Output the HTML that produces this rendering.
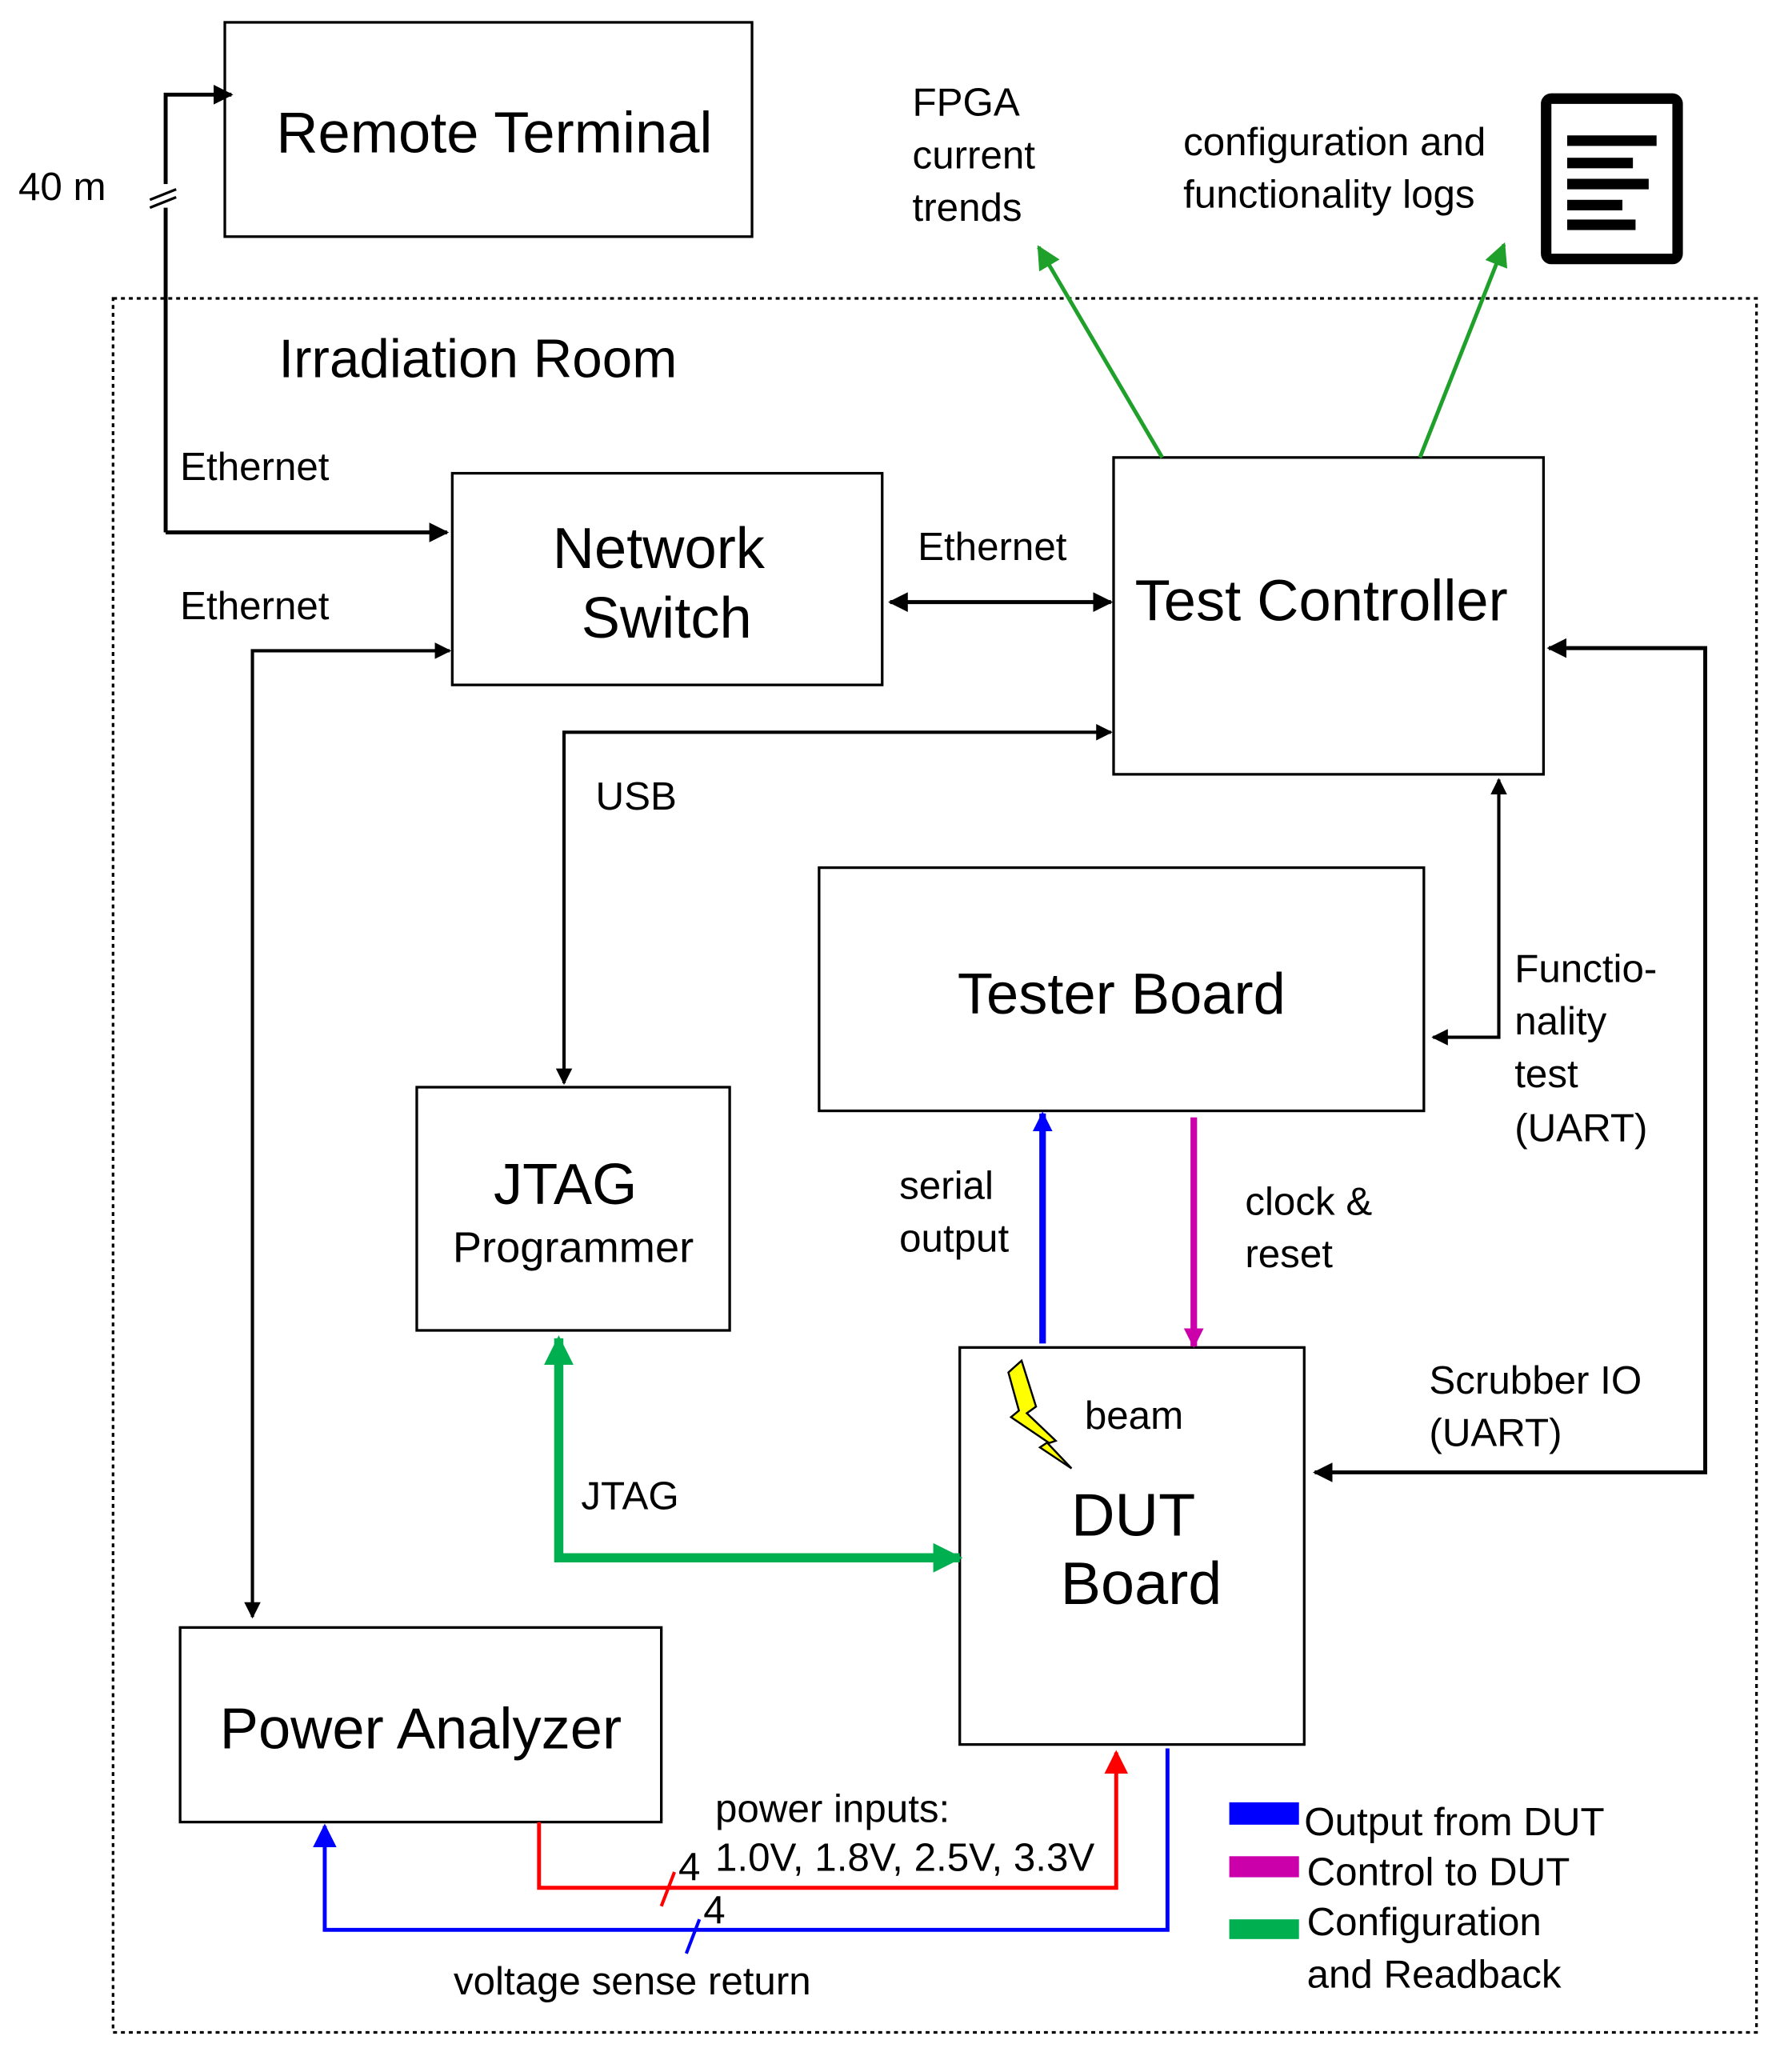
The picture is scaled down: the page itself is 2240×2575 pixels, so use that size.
<!DOCTYPE html>
<html><head><meta charset="utf-8"><style>html,body{margin:0;padding:0;background:#fff}svg{display:block}</style></head><body>
<svg width="2240" height="2575" viewBox="0 0 1363 1567" preserveAspectRatio="none" xmlns="http://www.w3.org/2000/svg" font-family="Liberation Sans, sans-serif">
<defs>
<marker id="ak" viewBox="0 0 10 10" refX="9" refY="5" markerWidth="5" markerHeight="5" orient="auto-start-reverse"><path d="M0,0L10,5L0,10z" fill="#000"/></marker>
<marker id="ag" viewBox="0 0 10 10" refX="9" refY="5" markerWidth="6" markerHeight="6" orient="auto"><path d="M0,0L10,5L0,10z" fill="#1fa02a"/></marker>
<marker id="ab" viewBox="0 0 10 10" refX="9" refY="5" markerWidth="3" markerHeight="3" orient="auto"><path d="M0,0L10,5L0,10z" fill="#0000ff"/></marker>
<marker id="am" viewBox="0 0 10 10" refX="9" refY="5" markerWidth="3" markerHeight="3" orient="auto"><path d="M0,0L10,5L0,10z" fill="#cc00aa"/></marker>
<marker id="agg" viewBox="0 0 10 10" refX="9" refY="5" markerWidth="3.2" markerHeight="3.2" orient="auto-start-reverse"><path d="M0,0L10,5L0,10z" fill="#00b050"/></marker>
<marker id="ar" viewBox="0 0 10 10" refX="9" refY="5" markerWidth="6" markerHeight="6" orient="auto"><path d="M0,0L10,5L0,10z" fill="#ff0000"/></marker>
<marker id="ab2" viewBox="0 0 10 10" refX="9" refY="5" markerWidth="6" markerHeight="6" orient="auto"><path d="M0,0L10,5L0,10z" fill="#0000ff"/></marker>
</defs>
<g fill="none" stroke="#000" stroke-width="2">
<rect x="171" y="17" width="401" height="163"/>
<rect x="86" y="227" width="1250" height="1319" stroke-dasharray="3,3"/>
<rect x="344" y="360" width="327" height="161"/>
<rect x="847" y="348" width="327" height="241"/>
<rect x="623" y="660" width="460" height="185"/>
<rect x="317" y="827" width="238" height="185"/>
<rect x="730" y="1025" width="262" height="302"/>
<rect x="137" y="1238" width="366" height="148"/>
<path d="M126,405V72H176" stroke-width="3" marker-end="url(#ak)"/>
<path d="M126,405H340" stroke-width="3" marker-end="url(#ak)"/>
<path d="M342,495H192V1230" stroke-width="2.5" marker-start="url(#ak)" marker-end="url(#ak)"/>
<path d="M677,458H845" stroke-width="3" marker-start="url(#ak)" marker-end="url(#ak)"/>
<path d="M845,557H429V824" stroke-width="2.5" marker-start="url(#ak)" marker-end="url(#ak)"/>
<path d="M1090,789H1140V593" stroke-width="2.5" marker-start="url(#ak)" marker-end="url(#ak)"/>
<path d="M1178,493H1297V1120H1000" stroke-width="3" marker-start="url(#ak)" marker-end="url(#ak)"/>
</g>
<rect x="112" y="140" width="30" height="18" fill="#fff"/>
<path d="M114,152l20,-8M114,158l20,-8" stroke="#000" stroke-width="2"/>
<path d="M884,348L790,188" stroke="#1fa02a" stroke-width="3" marker-end="url(#ag)"/>
<path d="M1080,348L1144,186" stroke="#1fa02a" stroke-width="3" marker-end="url(#ag)"/>
<path d="M793,1022V847" stroke="#0000ff" stroke-width="5" marker-end="url(#ab)"/>
<path d="M908,850V1024" stroke="#cc00aa" stroke-width="5" marker-end="url(#am)"/>
<path d="M425,1018V1185H730" fill="none" stroke="#00b050" stroke-width="7" marker-start="url(#agg)" marker-end="url(#agg)"/>
<path d="M410,1386V1436H849V1333" fill="none" stroke="#ff0000" stroke-width="3" marker-end="url(#ar)"/>
<path d="M888,1330V1468H247V1389" fill="none" stroke="#0000ff" stroke-width="3" marker-end="url(#ab2)"/>
<path d="M503,1450l10,-26" stroke="#ff0000" stroke-width="2.5"/>
<path d="M522,1486l10,-26" stroke="#0000ff" stroke-width="2.5"/>
<path d="M777,1035L788,1070L781,1075L803,1096L797,1098L815,1117L791,1101L797,1097L769,1078L775,1073L767,1044z" fill="#ffff00" stroke="#000" stroke-width="1.5"/>
<rect x="1176" y="75" width="100" height="122" rx="4" fill="none" stroke="#000" stroke-width="8"/>
<g fill="#000"><rect x="1192" y="103" width="68" height="8"/><rect x="1192" y="120" width="50" height="8"/><rect x="1192" y="136" width="62" height="8"/><rect x="1192" y="152" width="42" height="8"/><rect x="1192" y="167" width="52" height="8"/></g>
<rect x="935" y="1371" width="53" height="17" fill="#0000ff"/>
<rect x="935" y="1412" width="53" height="16" fill="#cc00aa"/>
<rect x="935" y="1460" width="53" height="15" fill="#00b050"/>
<g font-size="46" text-anchor="middle" fill="#000">
<text x="376" y="116" font-size="44">Remote Terminal</text>
<text x="501" y="432" font-size="44">Network</text>
<text x="507" y="485" font-size="44">Switch</text>
<text x="1005" y="472" font-size="44">Test Controller</text>
<text x="853" y="771" font-size="44">Tester Board</text>
<text x="430" y="916" font-size="44">JTAG</text>
<text x="436" y="960" font-size="33">Programmer</text>
<text x="862" y="1168">DUT</text>
<text x="868" y="1220">Board</text>
<text x="320" y="1330" font-size="44">Power Analyzer</text>
</g>
<g font-size="30" fill="#000">
<text x="212" y="287" font-size="41">Irradiation Room</text>
<text x="14" y="152">40 m</text>
<text x="137" y="365">Ethernet</text>
<text x="137" y="471">Ethernet</text>
<text x="698" y="426">Ethernet</text>
<text x="453" y="616">USB</text>
<text x="694" y="88">FPGA</text><text x="694" y="128">current</text><text x="694" y="168">trends</text>
<text x="900" y="118">configuration and</text><text x="900" y="158">functionality logs</text>
<text x="1152" y="747">Functio-</text><text x="1152" y="787">nality</text><text x="1152" y="827">test</text><text x="1152" y="868">(UART)</text>
<text x="684" y="912">serial</text><text x="684" y="952">output</text>
<text x="947" y="924">clock &amp;</text><text x="947" y="964">reset</text>
<text x="1087" y="1060">Scrubber IO</text><text x="1087" y="1100">(UART)</text>
<text x="825" y="1087">beam</text>
<text x="442" y="1148">JTAG</text>
<text x="544" y="1386">power inputs:</text>
<text x="544" y="1423">1.0V, 1.8V, 2.5V, 3.3V</text>
<text x="516" y="1430">4</text>
<text x="535" y="1463">4</text>
<text x="345" y="1517">voltage sense return</text>
<text x="992" y="1396">Output from DUT</text>
<text x="994" y="1434">Control to DUT</text>
<text x="994" y="1472">Configuration</text>
<text x="994" y="1512">and Readback</text>
</g>
</svg>
</body></html>
